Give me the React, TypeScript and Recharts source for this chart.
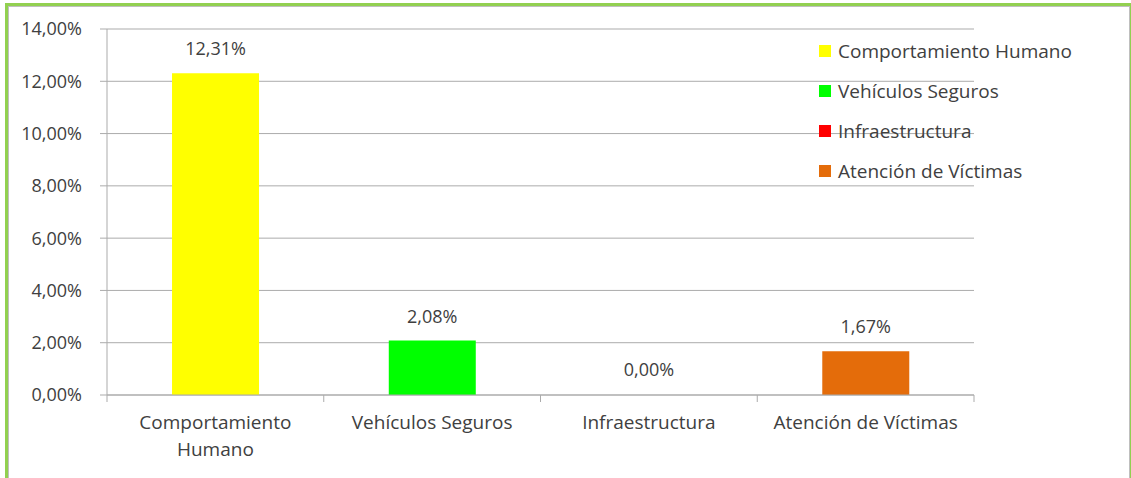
import { BarChart, Bar, XAxis, YAxis, CartesianGrid, Cell, LabelList } from 'recharts';

const categories = ['Comportamiento Humano', 'Vehículos Seguros', 'Infraestructura', 'Atención de Víctimas'];
const values = [0.1231, 0.0208, 0, 0.0167];
const colors = ['#FFFF00', '#00FF00', '#FF0000', '#E46C0A'];
const yTicks = [0, 0.02, 0.04, 0.06, 0.08, 0.1, 0.12, 0.14];

const data = categories.map((name, i) => ({ name, value: values[i], fill: colors[i] }));

const W = 1131;
const H = 478;
const AXIS_W = 107;
const RIGHT = 157;
const TOP = 29;
const X_AXIS_H = 83;
const PLOT_W = W - AXIS_W - RIGHT;
const HALF_BAND = PLOT_W / categories.length / 2;

const FONT = '"Open Sans", sans-serif';
const TEXT = '#404040';
const GRID = '#ABABAB';

const pct = (v: number) => (v * 100).toFixed(2).replace('.', ',') + '%';

function CategoryTick(props: any) {
    const { x, y, payload, index } = props;
    const label: string = payload.value;
    // Excel wraps the long label in two lines
    const lines = label.length > 20 ? label.split(' ') : [label];
    return (
        <g>
            <line x1={x - HALF_BAND} y1={y} x2={x - HALF_BAND} y2={y + 7} stroke={GRID} />
            {index === categories.length - 1 && (
                <line x1={x + HALF_BAND} y1={y} x2={x + HALF_BAND} y2={y + 7} stroke={GRID} />
            )}
            {lines.map((l, i) => (
                <text key={i} x={x} y={y + 34 + i * 27} textAnchor="middle" fill={TEXT} fontSize={19} fontFamily={FONT}>
                    {l}
                </text>
            ))}
        </g>
    );
}

function LegendBox() {
    return (
        <div style={{ position: 'absolute', left: 819, top: 31, fontFamily: FONT, fontSize: 19, color: TEXT }}>
            {categories.map((c, i) => (
                <div key={c} style={{ display: 'flex', alignItems: 'center', height: 40 }}>
                    <span style={{ width: 12, height: 12, background: colors[i], marginRight: 7 }} />
                    <span>{c}</span>
                </div>
            ))}
        </div>
    );
}

export default function App() {
    return (
        <div style={{ position: 'absolute', left: 0, top: 0, width: W, height: H, background: '#fff' }}>
            <div style={{
                position: 'absolute', left: 5, top: 3, width: W - 9, height: H,
                borderLeft: '3px solid #92D050', borderTop: '3px solid #92D050', borderRight: '3px solid #92D050',
            }}>
                <div style={{ width: '100%', height: '100%', borderLeft: '1px solid #BFBFBF', borderTop: '1px solid #BFBFBF', borderRight: '1px solid #BFBFBF', boxSizing: 'border-box' }} />
            </div>
            <div style={{ position: 'absolute', left: 0, top: 0 }}>
                <BarChart width={W} height={H} data={data} margin={{ top: TOP, right: RIGHT, left: 0, bottom: 0 }} barCategoryGap="30%">
                    <CartesianGrid vertical={false} stroke={GRID} />
                    <XAxis
                        dataKey="name"
                        height={X_AXIS_H}
                        stroke={GRID}
                        tickLine={false}
                        tickSize={0}
                        tickMargin={0}
                        interval={0}
                        tick={<CategoryTick />}
                    />
                    <XAxis xAxisId="labels" dataKey="name" hide />
                    <YAxis
                        width={AXIS_W}
                        domain={[0, 0.14]}
                        ticks={yTicks}
                        tickFormatter={pct}
                        stroke={GRID}
                        tickSize={7}
                        tickMargin={18}
                        tick={{ fill: TEXT, fontSize: 18, fontFamily: FONT }}
                    />
                    {/* transparent copy so the 0,00% label is drawn too */}
                    <Bar dataKey="value" xAxisId="labels" fill="#fff" fillOpacity={0} stroke="none" minPointSize={1} isAnimationActive={false}>
                        <LabelList dataKey="value" position="top" offset={18} formatter={(v: any) => pct(Number(v))} fill={TEXT} fontSize={18} fontFamily={FONT} />
                    </Bar>
                    <Bar dataKey="value" isAnimationActive={false}>
                        {data.map((d, i) => (
                            <Cell key={`cell-${i}`} fill={d.fill} />
                        ))}
                    </Bar>
                </BarChart>
            </div>
            <LegendBox />
        </div>
    );
}
